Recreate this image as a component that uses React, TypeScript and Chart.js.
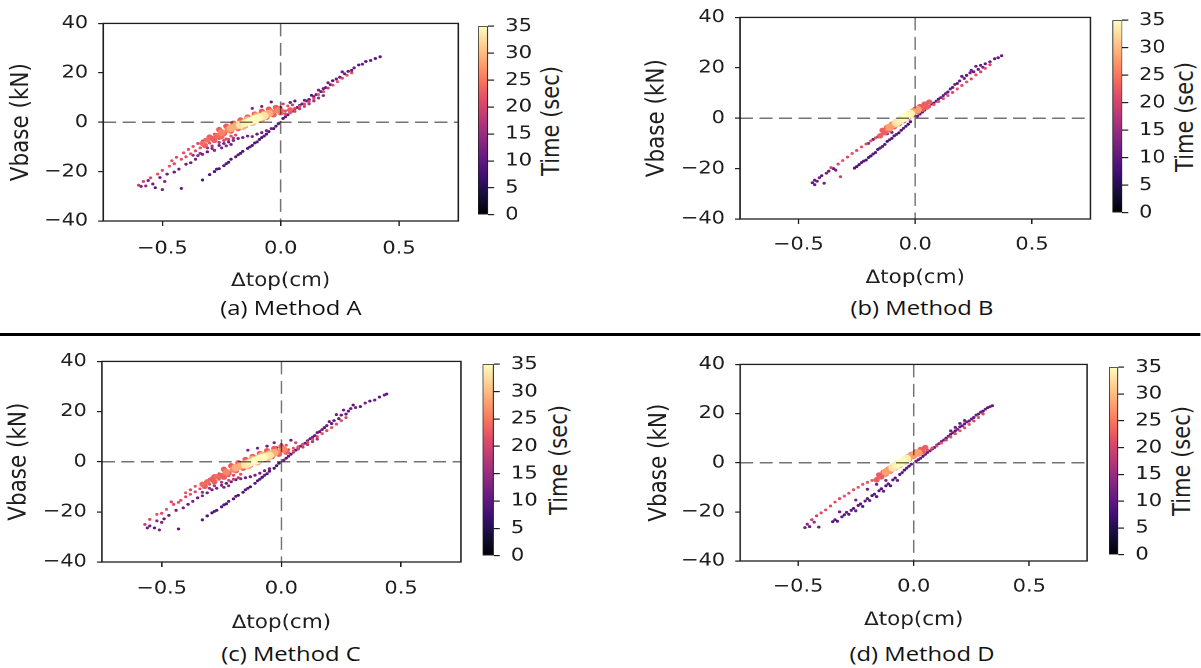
import React, { useEffect, useRef } from 'react';
import { Chart, registerables } from 'chart.js';
Chart.register(...registerables);

// horizontal stretch of the whole figure (the reference image is widened)
const K = 1.16;

const xTicks = [-0.5, 0, 0.5];
const yTicks = [-40, -20, 0, 20, 40];
const timeTicks = [0, 5, 10, 15, 20, 25, 30, 35];
const xRange = [-0.75, 0.75];
const yRange = [-40, 40];
const timeRange = [0, 35];

const magma = ['#000004', '#140e36', '#3b0f70', '#641a80', '#8c2981', '#b73779', '#de4968', '#f7705c', '#fe9f6d', '#fecf92', '#fcfdbf'];

// [Δtop (cm), Vbase (kN), time (sec)]
const methodA: number[][] = [
  [0.42, 26.5, 10], [0.40, 25.8, 10], [0.38, 25.0, 11], [0.36, 24.6, 10], [0.345, 23.5, 11], [0.33, 23.2, 10], [0.31, 22.0, 11], [0.30, 21.0, 10], [0.285, 20.6, 11], [0.27, 19.6, 10], [0.26, 20.4, 12], [0.25, 18.2, 10], [0.235, 17.5, 11], [0.22, 16.8, 10], [0.21, 15.2, 11], [0.20, 16.0, 12], [0.19, 14.0, 10], [0.18, 13.6, 11], [0.17, 12.4, 10], [0.16, 13.0, 12], [0.15, 11.2, 10], [0.14, 10.4, 11], [0.13, 10.9, 9], [0.12, 9.2, 10], [0.11, 8.6, 11], [0.10, 8.9, 12], [0.09, 7.4, 10], [0.08, 6.8, 11], [0.07, 6.0, 10], [0.06, 5.4, 9], [0.05, 4.5, 10], [0.04, 4.0, 11], [0.03, 3.0, 10], [0.02, 2.2, 10], [0.01, 1.5, 9],
  [0.30, 20.0, 21], [0.28, 19.0, 22], [0.26, 17.8, 21], [0.24, 16.4, 22], [0.22, 15.0, 21], [0.20, 13.8, 20], [0.18, 12.4, 21], [0.16, 11.2, 22], [0.14, 9.6, 21], [0.12, 8.4, 20], [0.10, 7.4, 21], [0.08, 6.4, 22], [0.06, 5.6, 21], [0.04, 5.0, 23], [0.02, 4.6, 22], [0.0, 4.8, 23], [0.03, 6.6, 22], [0.01, 7.4, 20], [0.05, 7.0, 19],
  [0.02, 3.4, 21], [0.04, 3.8, 22], [0.06, 4.4, 20], [0.08, 5.4, 19], [0.10, 6.4, 18], [0.12, 7.4, 17], [0.14, 8.6, 16], [0.16, 9.8, 15], [0.18, 10.8, 14],
  [-0.04, 8.2, 11], [-0.08, 6.4, 12], [-0.12, 5.6, 13], [0.0, 6.0, 12], [-0.02, 5.0, 14], [0.04, 8.0, 11], [0.06, 8.6, 10],
  [-0.26, -3.0, 23], [-0.23, -1.6, 23], [-0.20, -0.4, 23], [-0.17, 0.9, 23], [-0.14, 2.1, 23], [-0.11, 3.3, 23], [-0.08, 4.4, 23], [-0.05, 5.3, 23], [-0.02, 6.0, 23],
  [-0.27, -5.6, 23], [-0.24, -4.6, 23], [-0.21, -3.6, 23], [-0.18, -2.6, 23], [-0.15, -1.4, 23], [-0.12, -0.3, 23], [-0.09, 0.9, 23], [-0.06, 2.0, 23], [-0.03, 3.0, 23], [0.0, 3.8, 23],
  [-0.25, -4.2, 26], [-0.22, -3.0, 26], [-0.19, -1.8, 26], [-0.16, -0.6, 26], [-0.13, 0.6, 26], [-0.10, 1.8, 26], [-0.07, 2.9, 26], [-0.04, 4.0, 26], [-0.01, 4.8, 26],
  [-0.21, -2.4, 29], [-0.19, -1.6, 29], [-0.17, -0.8, 29], [-0.15, 0.0, 29], [-0.13, 0.8, 29], [-0.11, 1.6, 29], [-0.09, 2.3, 29], [-0.07, 3.0, 29], [-0.05, 3.5, 29], [-0.16, -1.6, 29], [-0.12, 0.0, 29], [-0.08, 1.6, 29], [-0.14, 0.9, 29], [-0.10, 2.5, 29],
  [-0.17, -1.2, 33], [-0.15, -0.4, 34], [-0.13, 0.4, 35], [-0.11, 1.2, 35], [-0.09, 1.9, 34], [-0.07, 2.5, 33], [-0.12, 0.6, 35], [-0.10, 1.5, 35],
  [-0.60, -25.5, 18], [-0.58, -24.0, 20], [-0.55, -22.5, 21], [-0.52, -21.0, 22], [-0.50, -19.5, 21], [-0.47, -17.8, 22], [-0.45, -16.8, 21], [-0.42, -15.0, 22], [-0.40, -14.0, 21], [-0.38, -12.8, 22], [-0.36, -11.6, 21], [-0.34, -10.4, 22], [-0.32, -9.4, 23], [-0.30, -8.4, 22], [-0.28, -7.4, 23], [-0.26, -6.6, 22], [-0.25, -5.8, 24], [-0.27, -5.4, 24], [-0.29, -6.6, 23], [-0.31, -7.2, 24], [-0.23, -6.8, 21], [-0.21, -5.6, 22], [-0.19, -5.2, 21], [-0.33, -8.6, 24],
  [-0.32, -7.0, 22], [-0.30, -6.0, 23], [-0.28, -4.8, 22], [-0.35, -8.6, 21], [-0.37, -9.8, 22], [-0.24, -7.4, 20], [-0.22, -7.0, 19], [-0.20, -6.4, 18], [-0.33, -7.6, 20], [-0.39, -11.0, 21], [-0.41, -12.4, 22], [-0.44, -14.2, 21], [-0.46, -15.6, 22], [-0.29, -9.6, 17], [-0.26, -8.2, 16], [-0.31, -10.4, 15], [-0.34, -12.6, 14], [-0.37, -13.4, 15], [-0.25, -10.4, 13], [-0.23, -9.6, 14], [-0.21, -9.0, 12],
  [-0.56, -23.6, 12], [-0.54, -25.0, 11], [-0.53, -26.5, 10], [-0.50, -27.3, 12], [-0.49, -24.0, 13], [-0.51, -22.4, 11], [-0.48, -21.0, 12], [-0.45, -20.2, 11], [-0.43, -19.0, 12], [-0.42, -26.8, 10], [-0.40, -17.0, 11], [-0.38, -16.4, 12], [-0.36, -15.0, 11], [-0.35, -13.5, 13], [-0.33, -13.0, 12], [-0.31, -12.0, 11], [-0.29, -10.6, 12], [-0.28, -11.4, 13], [-0.26, -9.4, 11], [-0.24, -8.6, 12], [-0.22, -8.0, 11], [-0.20, -7.4, 13], [-0.18, -6.6, 12], [-0.16, -6.2, 11], [-0.14, -5.6, 12], [-0.12, -5.8, 13], [-0.10, -4.8, 11], [-0.08, -4.2, 12], [-0.06, -3.4, 13], [-0.04, -2.6, 12], [-0.57, -25.8, 14], [-0.59, -26.0, 12],
  [-0.33, -23.4, 9], [-0.30, -21.2, 9], [-0.28, -20.0, 8], [-0.26, -18.8, 9], [-0.24, -17.6, 9], [-0.22, -16.2, 8], [-0.21, -15.0, 9], [-0.19, -14.0, 9], [-0.17, -12.6, 8], [-0.16, -11.8, 9], [-0.14, -10.6, 9], [-0.12, -9.4, 8], [-0.11, -8.4, 9], [-0.09, -7.0, 9], [-0.08, -6.2, 8], [-0.06, -4.8, 9], [-0.05, -3.8, 9], [-0.03, -2.6, 8], [-0.02, -1.6, 9], [-0.01, -0.6, 9], [-0.27, -19.0, 10], [-0.23, -16.8, 10], [-0.18, -13.2, 10], [-0.13, -10.0, 10], [-0.10, -8.0, 10], [-0.07, -5.6, 10],
];

const methodB: number[][] = [
  [0.37, 24.8, 10], [0.355, 24.0, 11], [0.34, 23.6, 10], [0.32, 22.4, 11], [0.30, 21.6, 10], [0.29, 20.2, 12], [0.27, 19.4, 10], [0.26, 20.6, 11], [0.25, 18.4, 10], [0.235, 18.0, 12], [0.22, 17.0, 10], [0.21, 15.8, 11], [0.20, 16.6, 10], [0.19, 14.8, 11], [0.18, 13.8, 10], [0.17, 13.4, 12], [0.16, 12.2, 10], [0.15, 11.6, 11], [0.14, 10.4, 10], [0.13, 9.8, 12], [0.12, 9.0, 10], [0.11, 8.2, 11], [0.10, 7.6, 10], [0.09, 6.8, 11], [0.08, 6.0, 10], [0.07, 5.6, 12], [0.06, 4.6, 10], [0.05, 4.0, 11], [0.04, 3.2, 10], [0.03, 2.4, 11], [0.02, 1.6, 10], [0.01, 0.8, 11], [0.01, 4.2, 12], [0.28, 21.0, 11], [0.24, 19.0, 12],
  [0.32, 21.2, 21], [0.30, 19.8, 22], [0.28, 18.4, 21], [0.26, 17.2, 22], [0.24, 15.6, 21], [0.22, 14.4, 22], [0.20, 13.0, 21], [0.18, 11.6, 22], [0.16, 10.2, 21], [0.14, 9.0, 22], [0.12, 7.8, 21], [0.10, 6.6, 22], [0.08, 5.4, 22], [0.06, 4.6, 22], [0.04, 3.8, 22],
  [-0.14, -4.8, 23], [-0.12, -3.6, 23], [-0.10, -2.4, 23], [-0.08, -1.2, 23], [-0.06, 0.0, 23], [-0.04, 1.2, 23], [-0.02, 2.4, 23], [0.0, 3.6, 23], [0.02, 4.6, 23], [0.04, 5.6, 23], [0.06, 6.4, 23],
  [-0.15, -7.0, 23], [-0.13, -5.8, 23], [-0.11, -4.6, 23], [-0.09, -3.4, 23], [-0.07, -2.2, 23], [-0.05, -1.0, 23], [-0.03, 0.2, 23], [-0.01, 1.4, 23], [0.01, 2.6, 23], [0.03, 3.6, 23], [0.05, 4.4, 23],
  [-0.11, -3.6, 28], [-0.09, -2.4, 28], [-0.07, -1.2, 28], [-0.05, 0.0, 28], [-0.03, 1.2, 28], [-0.01, 2.4, 28], [0.01, 3.4, 28],
  [-0.08, -1.8, 33], [-0.065, -0.9, 34], [-0.05, 0.0, 35], [-0.035, 0.9, 35], [-0.02, 1.8, 34],
  [-0.33, -18.2, 21], [-0.31, -16.8, 22], [-0.29, -15.4, 21], [-0.27, -14.0, 22], [-0.25, -12.8, 21], [-0.23, -11.4, 22], [-0.21, -10.2, 21], [-0.19, -9.0, 22], [-0.17, -7.8, 22], [-0.15, -6.8, 22], [-0.14, -6.2, 22], [-0.36, -19.6, 20], [-0.32, -23.2, 19],
  [-0.44, -25.6, 11], [-0.43, -24.6, 10], [-0.42, -25.0, 12], [-0.41, -23.6, 11], [-0.40, -22.8, 10], [-0.38, -21.8, 12], [-0.37, -21.0, 11], [-0.35, -20.0, 10], [-0.43, -26.4, 11], [-0.39, -25.8, 12], [-0.34, -20.6, 12], [-0.20, -10.0, 12], [-0.18, -8.4, 11], [-0.16, -7.4, 12], [-0.12, -6.2, 12], [-0.10, -5.6, 11],
  [-0.26, -19.8, 9], [-0.25, -19.2, 9], [-0.24, -18.4, 8], [-0.23, -17.6, 9], [-0.21, -16.6, 9], [-0.20, -15.6, 8], [-0.19, -15.0, 9], [-0.17, -13.6, 9], [-0.16, -12.4, 8], [-0.14, -11.2, 9], [-0.13, -10.4, 9], [-0.12, -9.2, 8], [-0.10, -8.0, 9], [-0.09, -7.0, 9], [-0.07, -5.8, 8], [-0.06, -4.8, 9], [-0.04, -3.2, 9], [-0.03, -2.4, 8], [-0.02, -1.4, 9], [-0.22, -17.0, 10], [-0.18, -14.2, 10], [-0.15, -11.8, 10], [-0.11, -8.6, 10], [-0.08, -6.4, 10], [-0.05, -4.0, 10],
];

const methodC: number[][] = [
  [0.44, 27.0, 10], [0.43, 26.6, 11], [0.41, 25.8, 10], [0.39, 24.6, 11], [0.37, 24.2, 10], [0.35, 23.4, 12], [0.33, 22.0, 10], [0.31, 21.6, 11], [0.30, 22.6, 10], [0.28, 20.2, 11], [0.27, 19.0, 10], [0.25, 18.6, 12], [0.24, 17.2, 10], [0.22, 16.4, 11], [0.21, 15.2, 10], [0.20, 16.0, 12], [0.19, 14.4, 11], [0.18, 13.6, 10], [0.17, 12.8, 12], [0.16, 12.0, 10], [0.15, 11.6, 11], [0.14, 10.4, 10], [0.13, 9.8, 12], [0.12, 9.2, 10], [0.11, 8.4, 11], [0.10, 7.4, 10], [0.09, 7.0, 12], [0.08, 6.2, 10], [0.07, 5.4, 11], [0.06, 4.6, 10], [0.05, 3.8, 11], [0.04, 3.0, 10], [0.03, 2.2, 11], [0.02, 1.4, 10], [0.01, 0.6, 11], [0.23, 18.8, 11], [0.26, 20.6, 12], [0.29, 21.2, 11],
  [0.27, 17.6, 21], [0.25, 16.4, 22], [0.23, 15.0, 21], [0.21, 13.6, 22], [0.19, 12.4, 21], [0.17, 11.2, 22], [0.15, 10.0, 21], [0.13, 8.8, 22], [0.11, 7.8, 21], [0.09, 6.8, 22], [0.07, 6.0, 22], [0.05, 5.4, 22], [0.03, 4.8, 22], [0.01, 4.6, 22], [0.06, 7.6, 21], [0.02, 6.6, 22],
  [0.03, 3.6, 21], [0.05, 4.2, 22], [0.07, 5.0, 20], [0.09, 5.8, 19], [0.11, 6.8, 18], [0.13, 8.0, 17], [0.15, 9.0, 16],
  [-0.10, 5.4, 12], [-0.06, 6.2, 11], [-0.02, 5.6, 13], [0.0, 6.8, 12], [-0.14, 4.6, 13], [0.04, 8.6, 11], [-0.03, 7.6, 12],
  [-0.24, -3.0, 23], [-0.21, -1.6, 23], [-0.18, -0.4, 23], [-0.15, 0.9, 23], [-0.12, 2.1, 23], [-0.09, 3.3, 23], [-0.06, 4.4, 23], [-0.03, 5.3, 23], [0.0, 6.0, 23],
  [-0.25, -5.6, 23], [-0.22, -4.6, 23], [-0.19, -3.6, 23], [-0.16, -2.6, 23], [-0.13, -1.4, 23], [-0.10, -0.3, 23], [-0.07, 0.9, 23], [-0.04, 2.0, 23], [-0.01, 3.0, 23], [0.02, 3.8, 23],
  [-0.23, -4.2, 26], [-0.20, -3.0, 26], [-0.17, -1.8, 26], [-0.14, -0.6, 26], [-0.11, 0.6, 26], [-0.08, 1.8, 26], [-0.05, 2.9, 26], [-0.02, 4.0, 26], [0.01, 4.8, 26],
  [-0.19, -2.4, 29], [-0.17, -1.6, 29], [-0.15, -0.8, 29], [-0.13, 0.0, 29], [-0.11, 0.8, 29], [-0.09, 1.6, 29], [-0.07, 2.3, 29], [-0.05, 3.0, 29], [-0.03, 3.5, 29], [-0.14, -1.6, 29], [-0.10, 0.0, 29], [-0.06, 1.6, 29], [-0.12, 0.9, 29], [-0.08, 2.5, 29],
  [-0.15, -1.2, 33], [-0.13, -0.4, 34], [-0.11, 0.4, 35], [-0.09, 1.2, 35], [-0.07, 1.9, 34], [-0.05, 2.5, 33], [-0.10, 0.6, 35], [-0.08, 1.5, 35],
  [-0.57, -25.0, 19], [-0.55, -23.0, 21], [-0.52, -21.0, 22], [-0.50, -20.6, 21], [-0.48, -19.0, 22], [-0.45, -17.0, 21], [-0.42, -15.4, 22], [-0.40, -14.0, 21], [-0.38, -13.0, 22], [-0.36, -12.0, 21], [-0.34, -10.8, 22], [-0.32, -9.8, 23], [-0.30, -9.0, 22], [-0.28, -8.0, 23], [-0.26, -7.0, 22], [-0.24, -6.2, 23], [-0.22, -5.6, 22], [-0.27, -6.0, 24], [-0.29, -7.0, 23], [-0.31, -8.0, 24], [-0.20, -5.4, 21], [-0.17, -5.0, 22], [-0.33, -9.0, 24], [-0.43, -16.2, 22],
  [-0.30, -7.0, 22], [-0.28, -6.0, 23], [-0.26, -4.8, 22], [-0.33, -8.6, 21], [-0.36, -9.8, 22], [-0.22, -7.4, 20], [-0.20, -7.0, 19], [-0.18, -6.4, 18], [-0.31, -7.6, 20], [-0.38, -11.2, 21], [-0.40, -12.4, 22], [-0.46, -16.0, 21], [-0.28, -9.6, 17], [-0.25, -8.2, 16], [-0.30, -10.6, 15], [-0.33, -12.2, 14], [-0.24, -10.2, 13], [-0.22, -9.6, 14],
  [-0.56, -26.4, 12], [-0.55, -25.6, 11], [-0.53, -26.4, 10], [-0.51, -27.2, 12], [-0.50, -24.2, 13], [-0.49, -22.8, 11], [-0.47, -21.4, 12], [-0.44, -19.4, 11], [-0.43, -26.8, 10], [-0.41, -18.4, 12], [-0.39, -17.0, 11], [-0.37, -15.8, 12], [-0.35, -14.4, 11], [-0.33, -13.6, 13], [-0.31, -12.4, 12], [-0.29, -11.2, 11], [-0.27, -10.6, 12], [-0.25, -9.4, 13], [-0.23, -8.6, 11], [-0.21, -8.0, 12], [-0.19, -7.2, 11], [-0.17, -6.8, 13], [-0.15, -6.4, 12], [-0.13, -6.0, 11], [-0.11, -5.4, 12], [-0.09, -4.6, 13], [-0.07, -3.6, 11], [-0.05, -2.8, 12], [-0.52, -23.6, 14],
  [-0.33, -23.2, 9], [-0.31, -21.6, 9], [-0.29, -20.4, 8], [-0.27, -19.4, 9], [-0.25, -18.0, 9], [-0.23, -16.8, 8], [-0.22, -15.8, 9], [-0.20, -14.8, 9], [-0.18, -13.4, 8], [-0.16, -12.2, 9], [-0.15, -11.2, 9], [-0.13, -10.0, 8], [-0.11, -8.6, 9], [-0.10, -7.6, 9], [-0.08, -6.2, 8], [-0.06, -4.8, 9], [-0.05, -3.8, 9], [-0.03, -2.6, 8], [-0.02, -1.6, 9], [-0.01, -0.6, 9], [-0.28, -19.8, 10], [-0.24, -17.2, 10], [-0.19, -13.8, 10], [-0.14, -10.6, 10], [-0.09, -7.0, 10], [-0.07, -5.4, 10],
];

const methodD: number[][] = [
  [0.34, 23.2, 10], [0.33, 22.8, 11], [0.32, 22.4, 10], [0.31, 21.8, 12], [0.30, 21.0, 10], [0.29, 20.6, 11], [0.28, 19.8, 10], [0.27, 19.4, 12], [0.26, 18.4, 10], [0.25, 17.8, 11], [0.24, 17.0, 10], [0.23, 16.6, 12], [0.22, 15.8, 10], [0.21, 15.0, 11], [0.20, 14.6, 10], [0.19, 13.6, 12], [0.18, 13.0, 10], [0.17, 12.2, 11], [0.16, 11.6, 10], [0.15, 10.8, 12], [0.14, 10.0, 10], [0.13, 9.2, 11], [0.12, 8.6, 10], [0.11, 7.8, 12], [0.10, 7.2, 10], [0.09, 6.2, 11], [0.08, 5.6, 10], [0.07, 4.8, 12], [0.06, 4.2, 10], [0.05, 3.4, 11], [0.04, 2.6, 10], [0.03, 1.8, 11], [0.02, 1.2, 10], [0.01, 0.6, 11], [0.20, 16.0, 11], [0.22, 17.2, 12], [0.18, 14.4, 11], [0.16, 13.0, 12],
  [0.30, 19.8, 21], [0.28, 18.4, 22], [0.26, 17.0, 21], [0.24, 15.6, 22], [0.22, 14.2, 21], [0.20, 13.0, 22], [0.18, 11.8, 21], [0.16, 10.4, 22], [0.14, 9.2, 21], [0.12, 8.0, 22], [0.10, 6.8, 21], [0.08, 6.0, 22], [0.06, 5.2, 22], [0.04, 4.4, 22], [0.02, 3.8, 22],
  [-0.15, -5.0, 23], [-0.13, -3.8, 23], [-0.11, -2.6, 23], [-0.09, -1.4, 23], [-0.07, -0.2, 23], [-0.05, 1.0, 23], [-0.03, 2.2, 23], [-0.01, 3.4, 23], [0.01, 4.4, 23], [0.03, 5.4, 23], [0.05, 6.2, 23],
  [-0.16, -7.0, 23], [-0.14, -5.8, 23], [-0.12, -4.6, 23], [-0.10, -3.4, 23], [-0.08, -2.2, 23], [-0.06, -1.0, 23], [-0.04, 0.2, 23], [-0.02, 1.4, 23], [0.0, 2.6, 23], [0.02, 3.6, 23], [0.04, 4.4, 23],
  [-0.12, -3.8, 28], [-0.10, -2.6, 28], [-0.08, -1.4, 28], [-0.06, -0.2, 28], [-0.04, 1.0, 28], [-0.02, 2.2, 28], [0.0, 3.2, 28], [0.02, 4.0, 28],
  [-0.09, -2.0, 33], [-0.075, -1.1, 34], [-0.06, -0.2, 35], [-0.045, 0.7, 35], [-0.03, 1.6, 34],
  [-0.42, -21.6, 20], [-0.40, -20.4, 21], [-0.38, -19.2, 22], [-0.36, -17.6, 21], [-0.34, -16.0, 22], [-0.32, -14.6, 21], [-0.30, -13.6, 22], [-0.28, -12.4, 21], [-0.26, -11.0, 22], [-0.24, -10.0, 22], [-0.22, -8.8, 22], [-0.20, -8.0, 22], [-0.18, -7.2, 22], [-0.16, -6.4, 22], [-0.14, -6.0, 22], [-0.44, -23.2, 19],
  [-0.47, -26.4, 12], [-0.46, -25.0, 13], [-0.45, -26.0, 11], [-0.41, -26.2, 12], [-0.43, -24.2, 14],
  [-0.35, -24.0, 9], [-0.34, -23.2, 10], [-0.33, -23.8, 9], [-0.31, -22.0, 10], [-0.30, -21.2, 9], [-0.29, -20.2, 11], [-0.28, -21.0, 9], [-0.27, -19.4, 10], [-0.26, -18.6, 9], [-0.25, -19.6, 11], [-0.24, -17.4, 9], [-0.23, -16.8, 10], [-0.22, -17.8, 9], [-0.21, -15.6, 10], [-0.20, -14.6, 9], [-0.19, -15.4, 11], [-0.18, -13.4, 9], [-0.17, -12.8, 10], [-0.16, -13.8, 9], [-0.15, -11.4, 10], [-0.14, -10.6, 9], [-0.13, -11.6, 11], [-0.12, -9.4, 9], [-0.11, -8.6, 10], [-0.10, -9.4, 9], [-0.09, -7.0, 10], [-0.08, -6.2, 9], [-0.07, -7.2, 11], [-0.06, -4.8, 9], [-0.05, -4.0, 10], [-0.04, -3.0, 9], [-0.03, -2.2, 10], [-0.02, -1.4, 9], [-0.01, -0.6, 10], [-0.20, -10.8, 12], [-0.16, -8.8, 11], [-0.12, -7.2, 12], [-0.32, -20.0, 12], [-0.25, -15.2, 12],
];

const captions = ['(a) Method A', '(b) Method B', '(c) Method C', '(d) Method D'];
const xTitle = 'Δtop(cm)';
const yTitle = 'Vbase (kN)';
const cbTitle = 'Time (sec)';

// layout of each panel in reference-image pixels
const geoms = [
  { left: 103, right: 458, top: 20, bottom: 221, cbLeft: 478, cbRight: 488, yTitleX: 21, timeX: 551, xTickY: 249, xTitleY: 281, capX: 291, capY: 307 },
  { left: 740, right: 1090, top: 14, bottom: 219, cbLeft: 1112, cbRight: 1122, yTitleX: 657, timeX: 1186, xTickY: 245, xTitleY: 278, capX: 922, capY: 307 },
  { left: 102, right: 461, top: 358, bottom: 562, cbLeft: 483, cbRight: 494, yTitleX: 19, timeX: 559, xTickY: 589, xTitleY: 623, capX: 291, capY: 653 },
  { left: 740, right: 1087, top: 361, bottom: 561, cbLeft: 1109, cbRight: 1118, yTitleX: 659, timeX: 1182, xTickY: 587, xTitleY: 620, capX: 922, capY: 653 },
];
const datasetsAll = [methodA, methodB, methodC, methodD];

const FONT = "'DejaVu Sans', sans-serif";
const INK = '#1e1e1e';

function hexToRgb(h: string) {
  return [parseInt(h.slice(1, 3), 16), parseInt(h.slice(3, 5), 16), parseInt(h.slice(5, 7), 16)];
}
function magmaAt(f: number) {
  const v = Math.max(0, Math.min(1, f)) * (magma.length - 1);
  const i = Math.min(magma.length - 2, Math.floor(v));
  const r = v - i;
  const a = hexToRgb(magma[i]);
  const b = hexToRgb(magma[i + 1]);
  const c = a.map((x, j) => Math.round(x + (b[j] - x) * r));
  return `rgb(${c[0]},${c[1]},${c[2]})`;
}
function radiusFor(t: number) {
  if (t >= 32) return 4.0;
  if (t >= 27) return 3.8;
  if (t >= 25) return 3.4;
  if (t >= 23) return 2.7;
  return 1.45;
}
const fmtX = (v: number) => (v < 0 ? '−' : '') + Math.abs(v).toFixed(1);
const fmtInt = (v: number) => (v < 0 ? '−' : '') + Math.abs(v);

const framePlugin = {
  id: 'frameAndZero',
  afterDatasetsDraw(chart: any) {
    const { ctx, chartArea: a, scales } = chart;
    const x0 = scales.x.getPixelForValue(0);
    const y0 = scales.y.getPixelForValue(0);
    ctx.save();
    ctx.strokeStyle = 'rgba(0,0,0,0.55)';
    ctx.lineWidth = 1.5;
    ctx.setLineDash([11.2, 5.6]);
    ctx.beginPath();
    ctx.moveTo(a.left, y0);
    ctx.lineTo(a.right, y0);
    ctx.stroke();
    ctx.lineWidth = 1.3;
    ctx.setLineDash([13, 6.5]);
    ctx.beginPath();
    ctx.moveTo(x0, a.top);
    ctx.lineTo(x0, a.bottom);
    ctx.stroke();
    ctx.setLineDash([]);
    ctx.strokeStyle = INK;
    ctx.lineWidth = 1.3;
    ctx.strokeRect(a.left, a.top, a.right - a.left, a.bottom - a.top);
    ctx.restore();
  },
};

function Panel({ idx }: { idx: number }) {
  const sRef = useRef<HTMLCanvasElement>(null);
  const cRef = useRef<HTMLCanvasElement>(null);
  const g = geoms[idx];

  const L0 = (g.yTitleX - 20) / K;
  const T0 = g.top - 16;
  const right = g.right / K;
  const SW = right + 4 - L0;
  const yTitleSize = 21.5;
  const xTitleSize = 18.5;
  const SH = g.xTitleY + xTitleSize * 0.6 + 2 - T0;

  const cbW = (g.cbRight - g.cbLeft) / K;
  const CL = g.cbLeft / K - 1;
  const CT = g.top - 14;
  const CW = cbW + 1 + 40;
  const CH = g.bottom - g.top + 28;

  useEffect(() => {
    const pts = [...datasetsAll[idx]].sort((p, q) => p[2] - q[2]).map((p) => ({ x: p[0], y: p[1], t: p[2] }));
    const tickLen = 5;
    const sc = new Chart(sRef.current as HTMLCanvasElement, {
      type: 'scatter',
      data: {
        datasets: [
          {
            data: pts as any,
            pointRadius: (c: any) => radiusFor(c.raw ? c.raw.t : 10),
            pointBackgroundColor: (c: any) => magmaAt((c.raw ? c.raw.t : 10) / timeRange[1]),
            pointBorderWidth: 0,
            pointHoverRadius: 0,
          } as any,
        ],
      },
      options: {
        animation: false,
        responsive: true,
        maintainAspectRatio: false,
        devicePixelRatio: 2,
        events: [],
        layout: { padding: { left: 0, top: g.top - T0, right: SW - (right - L0), bottom: 0 } },
        plugins: { legend: { display: false }, tooltip: { enabled: false } },
        scales: {
          x: {
            type: 'linear',
            min: xRange[0],
            max: xRange[1],
            afterBuildTicks: (s: any) => { s.ticks = xTicks.map((v) => ({ value: v })); },
            afterFit: (s: any) => { s.height = SH - (g.bottom - T0); },
            ticks: {
              font: { family: FONT, size: 18 },
              color: INK,
              padding: g.xTickY - g.bottom - tickLen - 18 * 0.6,
              maxRotation: 0,
              autoSkip: false,
              callback: (v: any) => fmtX(Number(v)),
            },
            grid: { display: true, drawOnChartArea: false, drawTicks: true, tickLength: tickLen, color: INK, lineWidth: 1.2 },
            border: { display: false },
            title: { display: true, text: xTitle, color: INK, font: { family: FONT, size: xTitleSize }, padding: { top: 0, bottom: 2 } },
          },
          y: {
            type: 'linear',
            min: yRange[0],
            max: yRange[1],
            afterBuildTicks: (s: any) => { s.ticks = yTicks.map((v) => ({ value: v })); },
            afterFit: (s: any) => { s.width = g.left / K - L0; },
            ticks: {
              font: { family: FONT, size: 18 },
              color: INK,
              padding: 10 / K,
              autoSkip: false,
              callback: (v: any) => fmtInt(Number(v)),
            },
            grid: { display: true, drawOnChartArea: false, drawTicks: true, tickLength: tickLen / K, color: INK, lineWidth: 1.2 },
            border: { display: false },
            title: {
              display: true,
              text: yTitle,
              color: INK,
              font: { family: FONT, size: yTitleSize },
              padding: { top: g.yTitleX / K - L0 - yTitleSize * 0.6, bottom: 0 },
            },
          },
        },
      },
      plugins: [framePlugin],
    } as any);

    const cb = new Chart(cRef.current as HTMLCanvasElement, {
      type: 'bar',
      data: {
        labels: [''],
        datasets: [
          {
            data: [[timeRange[0], timeRange[1]]] as any,
            backgroundColor: (c: any) => {
              const a = c.chart.chartArea;
              if (!a) return magma[5];
              const gr = c.chart.ctx.createLinearGradient(0, a.bottom, 0, a.top);
              magma.forEach((col, i) => gr.addColorStop(i / (magma.length - 1), col));
              return gr;
            },
            borderColor: INK,
            borderWidth: 1,
            borderSkipped: false,
            barPercentage: 1,
            categoryPercentage: 1,
          } as any,
        ],
      },
      options: {
        animation: false,
        responsive: true,
        maintainAspectRatio: false,
        devicePixelRatio: 2,
        events: [],
        layout: { padding: { left: 1, top: g.top - CT, right: 0, bottom: CT + CH - g.bottom } },
        plugins: { legend: { display: false }, tooltip: { enabled: false } },
        scales: {
          x: { display: false },
          y: {
            position: 'right',
            min: timeRange[0],
            max: timeRange[1],
            afterBuildTicks: (s: any) => { s.ticks = timeTicks.map((v) => ({ value: v })); },
            afterFit: (s: any) => { s.width = CW - 1 - cbW; },
            ticks: { font: { family: FONT, size: 18 }, color: INK, padding: 11 / K, autoSkip: false },
            grid: { display: true, drawOnChartArea: false, drawTicks: true, tickLength: 6 / K, color: INK, lineWidth: 1.2 },
            border: { display: false },
          },
        },
      },
    } as any);

    return () => {
      sc.destroy();
      cb.destroy();
    };
  }, [idx]);

  return (
    <>
      <div style={{ position: 'absolute', left: L0, top: T0, width: SW, height: SH }}>
        <canvas ref={sRef} />
      </div>
      <div style={{ position: 'absolute', left: CL, top: CT, width: CW, height: CH }}>
        <canvas ref={cRef} />
      </div>
      <div
        style={{
          position: 'absolute',
          left: g.timeX / K,
          top: (g.top + g.bottom) / 2,
          transform: 'translate(-50%, -50%) rotate(-90deg)',
          fontFamily: FONT,
          fontSize: 21,
          color: INK,
          whiteSpace: 'nowrap',
          lineHeight: 1,
        }}
      >
        {cbTitle}
      </div>
      <div
        style={{
          position: 'absolute',
          left: g.capX / K,
          top: g.capY,
          transform: 'translate(-50%, -50%)',
          fontFamily: "'Open Sans', sans-serif",
          fontSize: 20.5,
          color: '#111',
          whiteSpace: 'nowrap',
          lineHeight: 1,
        }}
      >
        {captions[idx]}
      </div>
    </>
  );
}

export default function App() {
  useEffect(() => {
    document.documentElement.style.overflow = 'hidden';
    document.body.style.margin = '0';
  }, []);
  return (
    <div
      style={{
        position: 'absolute',
        left: 0,
        top: 0,
        width: 1201 / K,
        height: 668,
        transform: `scaleX(${K})`,
        transformOrigin: '0 0',
        background: '#fff',
        overflow: 'hidden',
      }}
    >
      <div style={{ position: 'absolute', left: 0, top: 333, width: 1201 / K, height: 3, background: '#000' }} />
      {[0, 1, 2, 3].map((i) => (
        <Panel key={i} idx={i} />
      ))}
    </div>
  );
}
